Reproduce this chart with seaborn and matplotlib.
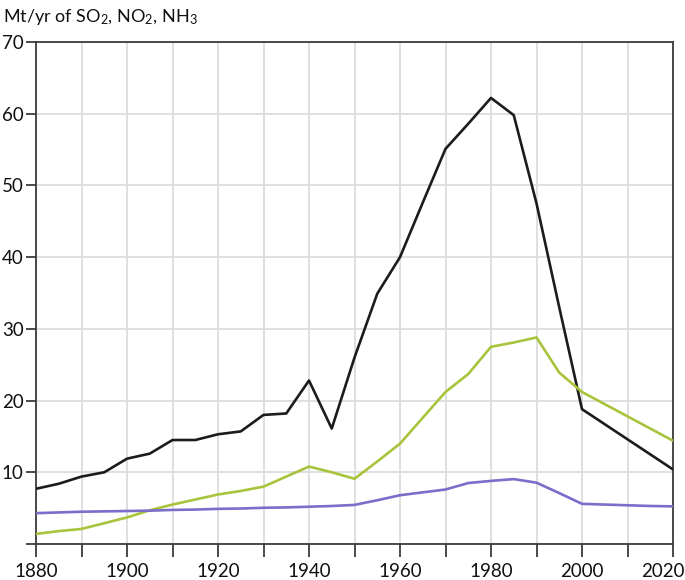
import numpy as np
import pandas as pd
import matplotlib
matplotlib.use("Agg")
import matplotlib.pyplot as plt
from matplotlib.transforms import ScaledTranslation
import seaborn as sns

years = [1880, 1885, 1890, 1895, 1900, 1905, 1910, 1915, 1920, 1925, 1930, 1935,
         1940, 1945, 1950, 1955, 1960, 1965, 1970, 1975, 1980, 1985, 1990, 1995,
         2000, 2005, 2010, 2015, 2020]
so2 = [7.7, 8.4, 9.4, 10.0, 11.9, 12.6, 14.5, 14.5, 15.3, 15.7, 18.0, 18.2,
       22.8, 16.1, 26.0, 34.9, 40.0, 47.6, 55.1, 58.6, 62.2, 59.8, 47.5, 33.0,
       18.8, 16.7, 14.6, 12.5, 10.4]
no2 = [1.4, 1.8, 2.1, 2.9, 3.7, 4.7, 5.5, 6.2, 6.9, 7.4, 8.0, 9.4,
       10.8, 10.0, 9.1, 11.5, 14.0, 17.6, 21.2, 23.7, 27.5, 28.1, 28.8, 23.9,
       21.2, 19.5, 17.8, 16.1, 14.4]
nh3 = [4.3, 4.4, 4.5, 4.55, 4.6, 4.65, 4.75, 4.8, 4.9, 4.95, 5.05, 5.1,
       5.2, 5.3, 5.45, 6.1, 6.8, 7.2, 7.6, 8.5, 8.8, 9.05, 8.55, 7.1,
       5.6, 5.5, 5.4, 5.3, 5.25]
series_names = ["SO2", "NO2", "NH3"]
colors = ["#1c1c1c", "#a8c43c", "#7b6dc9"]
x_ticks = [1880, 1900, 1920, 1940, 1960, 1980, 2000, 2020]
y_ticks = [0, 10, 20, 30, 40, 50, 60, 70]
y_ticklabels = ["", "10", "20", "30", "40", "50", "60", "70"]

df = pd.DataFrame({
    "year": years * 3,
    "value": so2 + no2 + nh3,
    "series": [series_names[0]] * len(years) + [series_names[1]] * len(years)
              + [series_names[2]] * len(years),
})

sns.set_style("white")
plt.rcParams["font.family"] = ["Lato", "DejaVu Sans"]
plt.rcParams["mathtext.fontset"] = "custom"
plt.rcParams["mathtext.rm"] = "Lato"
plt.rcParams["mathtext.it"] = "Lato"
plt.rcParams["mathtext.bf"] = "Lato"

fig = plt.figure(figsize=(6.85, 5.8), dpi=100)
ax = fig.add_axes([36 / 685, 1 - 544 / 580, (673 - 36) / 685, (544 - 42) / 580])

sns.lineplot(data=df, x="year", y="value", hue="series", hue_order=series_names,
             palette=colors, linewidth=1.9, ax=ax, legend=False, zorder=3)

ax.set_xlim(1880, 2020)
ax.set_ylim(0, 70)
xt = list(range(1880, 2021, 10))
ax.set_xticks(xt)
ax.set_xticklabels([str(y) if y in x_ticks else "" for y in xt])
ax.set_yticks(y_ticks)
ax.set_yticklabels(y_ticklabels)
ax.set_xlabel("")
ax.set_ylabel("")
ax.grid(True, color="#dcdcdc", linewidth=1.3, zorder=0)
ax.set_axisbelow(True)
for s in ax.spines.values():
    s.set_visible(True)
    s.set_color("#3c3c3c")
    s.set_linewidth(1.3)
ax.tick_params(axis="both", which="major", labelsize=13.5, colors="#3c3c3c",
               labelcolor="#111111", length=7, width=1.3, direction="out",
               bottom=True, left=True, top=False, right=False)
ax.tick_params(axis="x", pad=5, length=9)
ax.tick_params(axis="y", pad=2, length=7)

# shift last x label inward so it stays inside the figure
last = ax.get_xticklabels()[-1]
last.set_transform(last.get_transform() + ScaledTranslation(-10 / 100, 0, fig.dpi_scale_trans))

fig.text(3 / 685, 1 - 17 / 580, r"Mt/yr of SO$_2$, NO$_2$, NH$_3$",
         fontsize=13, color="#111111", ha="left", va="center")

fig.savefig("out.png", dpi=100)
